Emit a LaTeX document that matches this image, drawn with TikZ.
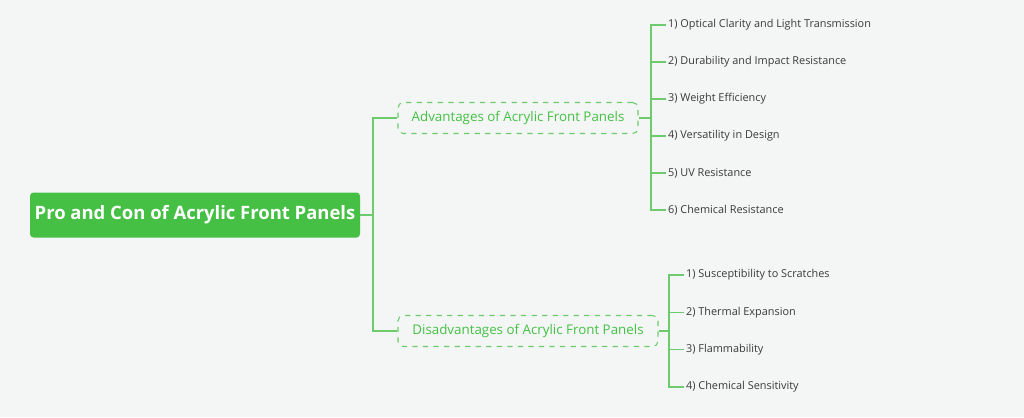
\documentclass[tikz,border=0pt]{standalone}
\usepackage{fontspec}
\setmainfont{Open Sans}
\definecolor{bg}{HTML}{F3F6F4}
\definecolor{gr}{HTML}{45C045}
\definecolor{ln}{HTML}{6CCB6C}
\definecolor{tx}{HTML}{3A3A3A}
\begin{document}
\begin{tikzpicture}[x=0.02cm,y=-0.02cm,
  root/.style={fill=gr,rounded corners=2pt,text=white,font=\bfseries\fontsize{10.5}{12}\selectfont,minimum width=330*0.02cm,minimum height=45*0.02cm,inner sep=0},
  sub/.style={draw=ln,dashed,rounded corners=3pt,text=gr,font=\fontsize{7.6}{9}\selectfont,minimum height=31*0.02cm,inner xsep=5pt,line width=0.6pt},
  item/.style={anchor=west,text=tx,font=\fontsize{6.2}{8}\selectfont,inner sep=1pt},
  con/.style={draw=ln,line width=0.8pt}]
\fill[bg] (0,0) rectangle (1024,417);
\node[root] (r) at (195,215) {Pro and Con of Acrylic Front Panels};
\node[sub,minimum width=240*0.02cm] (a) at (518,118) {Advantages of Acrylic Front Panels};
\node[sub,minimum width=260*0.02cm] (d) at (528,331) {Disadvantages of Acrylic Front Panels};
\coordinate (j) at (373,215);
\draw[con] (r.east) -- (j) |- (a.west);
\draw[con] (j) |- (d.west);
\foreach \t [count=\i] in {1) Optical Clarity and Light Transmission,2) Durability and Impact Resistance,3) Weight Efficiency,4) Versatility in Design,5) UV Resistance,6) Chemical Resistance}{
  \node[item] (a\i) at (666,{25+37*(\i-1)}) {\t};
}
\coordinate (ja) at (651,118);
\draw[con] (a.east) -- (ja);
\foreach \i in {1,...,6}{\draw[con] (ja) |- (a\i.west);}
\foreach \t [count=\i] in {1) Susceptibility to Scratches,2) Thermal Expansion,3) Flammability,4) Chemical Sensitivity}{
  \node[item] (d\i) at (684,{275+37.3*(\i-1)}) {\t};
}
\coordinate (jd) at (669,331);
\draw[con] (d.east) -- (jd);
\foreach \i in {1,...,4}{\draw[con] (jd) |- (d\i.west);}
\end{tikzpicture}
\end{document}
